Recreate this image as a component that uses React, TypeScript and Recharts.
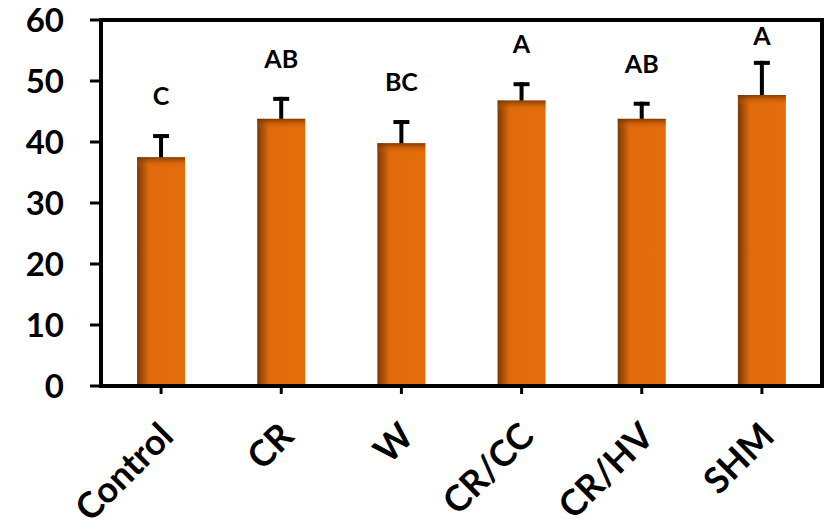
import { BarChart, Bar, XAxis, YAxis, ReferenceArea } from "recharts";

const categories = ["Control", "CR", "W", "CR/CC", "CR/HV", "SHM"];
const means = [37.5, 43.8, 39.8, 46.8, 43.8, 47.7];
const errors = [3.8, 3.6, 3.8, 3.0, 2.8, 5.6];
const letters = ["C", "AB", "BC", "A", "AB", "A"];
const yTicks = [0, 10, 20, 30, 40, 50, 60];

const data = categories.map((name, i) => ({
  name,
  mean: means[i],
  err: errors[i],
  letter: letters[i],
}));

const FONT = "Lato, 'Open Sans', sans-serif";

// bar + upward error bar + significance letter, all in one shape
function BarWithError(props: any) {
  const { x, y, width, height, payload } = props;
  const ppu = height / payload.mean;
  const baseY = y + height;
  const plotTop = baseY - 60 * ppu;
  const capY = y - payload.err * ppu;
  const cx = x + width / 2;
  const labelY = Math.max(capY - 29, plotTop + 25);
  return (
    <g>
      <rect x={x} y={y} width={width} height={height} fill="url(#barH)" />
      <rect x={x} y={y} width={width} height={Math.min(10, height)} fill="url(#barV)" />
      <line x1={cx} x2={cx} y1={y} y2={capY} stroke="#000" strokeWidth={4} />
      <line x1={cx - 8} x2={cx + 8} y1={capY + 2} y2={capY + 2} stroke="#000" strokeWidth={4} />
      <text
        x={cx}
        y={labelY}
        textAnchor="middle"
        fontFamily={FONT}
        fontWeight={700}
        fontSize={25}
        fill="#000"
      >
        {payload.letter}
      </text>
    </g>
  );
}

function XTick(props: any) {
  const { x, y, payload } = props;
  const tx = x - 6;
  const ty = y + 22;
  return (
    <text
      x={tx}
      y={ty}
      transform={`rotate(-45, ${tx}, ${ty})`}
      textAnchor="end"
      dominantBaseline="hanging"
      fontFamily={FONT}
      fontWeight={700}
      fontSize={36}
      fill="#000"
    >
      {payload.value}
    </text>
  );
}

export default function App() {
  return (
    <div style={{ position: "absolute", left: 0, top: 0, background: "#fff" }}>
      <BarChart
        width={827}
        height={532}
        data={data}
        margin={{ top: 20, right: 5, left: 0, bottom: 0 }}
        barCategoryGap="30%"
      >
        <defs>
          <linearGradient id="barH" x1="0" y1="0" x2="1" y2="0">
            <stop offset="0%" stopColor="#7a3805" />
            <stop offset="25%" stopColor="#e06a0c" />
            <stop offset="100%" stopColor="#e46c0a" />
          </linearGradient>
          <linearGradient id="barV" x1="0" y1="0" x2="0" y2="1">
            <stop offset="0%" stopColor="#6b3003" stopOpacity={0.8} />
            <stop offset="100%" stopColor="#e46c0a" stopOpacity={0} />
          </linearGradient>
        </defs>
        <XAxis
          dataKey="name"
          height={146}
          interval={0}
          axisLine={{ stroke: "#000", strokeWidth: 4 }}
          tickLine={{ stroke: "#000", strokeWidth: 3 }}
          tickSize={8}
          tick={<XTick />}
        />
        <YAxis
          domain={[0, 60]}
          ticks={yTicks}
          width={101}
          axisLine={{ stroke: "#000", strokeWidth: 4 }}
          tickLine={{ stroke: "#000", strokeWidth: 3 }}
          tickSize={11}
          tickMargin={26}
          tick={{ fill: "#000", fontSize: 33, fontWeight: 700, fontFamily: FONT }}
        />
        <ReferenceArea
          y1={0}
          y2={60}
          fill="none"
          stroke="#000"
          strokeWidth={4}
          ifOverflow="visible"
        />
        <Bar dataKey="mean" shape={<BarWithError />} isAnimationActive={false} />
      </BarChart>
    </div>
  );
}
